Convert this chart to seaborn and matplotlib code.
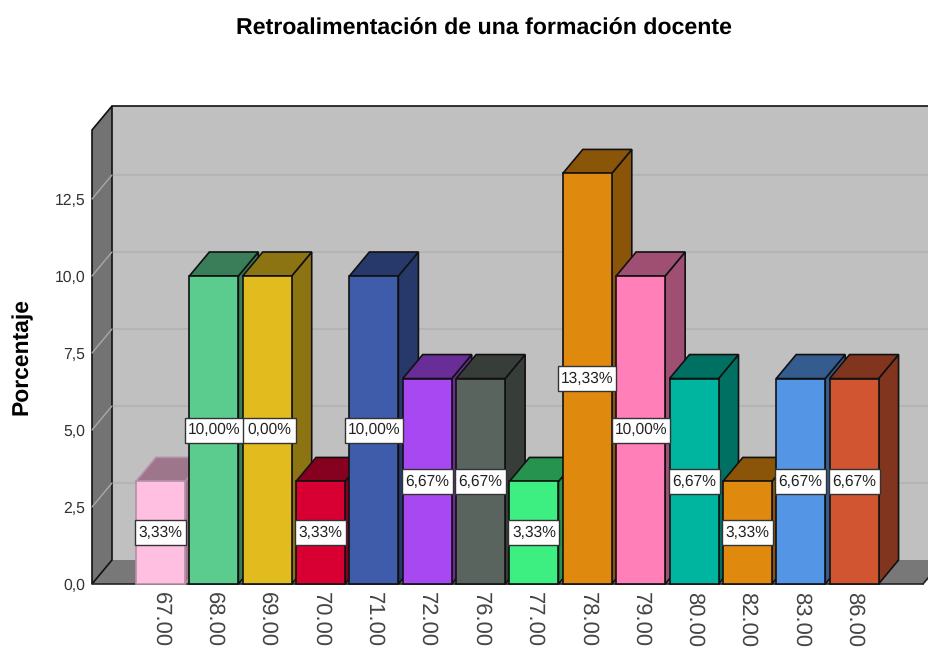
import seaborn as sns
import matplotlib.pyplot as plt
import matplotlib.colors as mcolors
from matplotlib.patches import Polygon, Rectangle

# Values
categories = ['67.00', '68.00', '69.00', '70.00', '71.00', '72.00', '76.00',
              '77.00', '78.00', '79.00', '80.00', '82.00', '83.00', '86.00']
percent = [3.33, 10.00, 10.00, 3.33, 10.00, 6.67, 6.67,
           3.33, 13.33, 10.00, 6.67, 3.33, 6.67, 6.67]
labels = ['3,33%', '10,00%', '0,00%', '3,33%', '10,00%', '6,67%', '6,67%',
          '3,33%', '13,33%', '10,00%', '6,67%', '3,33%', '6,67%', '6,67%']
colors = ['#FFBFE0', '#5CCB8E', '#E2BB1F', '#D80032', '#3F5CAB', '#A848F2', '#59645E',
          '#3DEE80', '#E0890F', '#FF80B8', '#00B5A0', '#E0890F', '#5595E5', '#D05530']
yticks = [0, 2.5, 5, 7.5, 10, 12.5]

sns.set_theme(style='white')
plt.rcParams['font.family'] = ['Liberation Sans', 'DejaVu Sans']
plt.rcParams['text.hinting'] = 'no_hinting'

W, H = 929, 648
fig = plt.figure(figsize=(W / 100, H / 100), dpi=100)

# pixel geometry of the front plane
px_left, px_bottom, px_top = 92, 584, 130
x0, x_step = 160.5, 53.35
y_step = 30.8
ax = fig.add_axes([px_left / W, 1 - px_bottom / H, (W - px_left) / W, (px_bottom - px_top) / H])

sns.barplot(x=categories, y=percent, hue=categories, palette=colors, dodge=False,
            width=49 / x_step, legend=False, edgecolor='#111111', linewidth=1.2,
            saturation=1, ax=ax)

ax.set_xlim((px_left - x0) / x_step, (W - x0) / x_step)
ax.set_ylim(0, (px_bottom - px_top) / y_step)
ax.patch.set_alpha(0)
sns.despine(ax=ax, left=True, bottom=True)

# depth of the 3D box in data units
dx = 20 / x_step
dy = 24 / y_step
xl = ax.get_xlim()[0]
xr_floor = (923 - x0) / x_step
xr = (950 - x0) / x_step
ytop = ax.get_ylim()[1]


def add_poly(points, face, z, edge='#111111', lw=1.2):
    ax.add_patch(Polygon(points, closed=True, facecolor=face, edgecolor=edge,
                         linewidth=lw, zorder=z, clip_on=False))


# walls and floor
add_poly([(xl + dx, dy), (xr, dy), (xr, ytop + dy), (xl + dx, ytop + dy)], '#C0C0C0', 1, edge='none')
add_poly([(xl, 0), (xl + dx, dy), (xr, dy), (xr_floor, 0)], '#787878', 2, edge='none')
add_poly([(xl, 0), (xl + dx, dy), (xl + dx, ytop + dy), (xl, ytop)], '#737373', 3)
ax.plot([xl + dx, xr], [ytop + dy, ytop + dy], color='#111111', lw=1.2, zorder=3, clip_on=False)
ax.plot([xl, xr_floor], [0, 0], color='#222222', lw=1.2, zorder=3, clip_on=False)
ax.plot([xr_floor, xr_floor + dx], [0, dy], color='#222222', lw=1.2, zorder=3, clip_on=False)

# gridlines on the back wall, continuing on the left wall
for t in yticks[1:]:
    ax.plot([xl + dx, xr], [t + dy, t + dy], color='#B4B4B4', lw=1.5, zorder=1.5, clip_on=False)
    ax.plot([xl, xl + dx], [t, t + dy], color='#A8A8A8', lw=1.0, zorder=3.5, clip_on=False)

# bars: seaborn draws the front faces, sides and tops go behind each one
bars = [c[0] for c in ax.containers]
for i, bar in enumerate(bars):
    z = 10 + 3 * i
    left, right, v = bar.get_x(), bar.get_x() + bar.get_width(), bar.get_height()
    shade = tuple(c * 0.62 for c in mcolors.to_rgb(colors[i]))
    # the pale first bar has no dark outline in the original
    edge = '#B58FA3' if i == 0 else '#111111'
    add_poly([(right, 0), (right + dx, dy), (right + dx, v + dy), (right, v)], shade, z, edge=edge)
    add_poly([(left, v), (left + dx, v + dy), (right + dx, v + dy), (right, v)], shade, z + 0.5, edge=edge)
    bar.set_zorder(z + 1)
    bar.set_clip_on(False)
    bar.set_edgecolor(edge)

    # value label box, earlier boxes sit on top of later ones
    box_w = (58 if len(labels[i]) == 6 else 51) / x_step
    box_h = 25 / y_step
    # the third label is clipped by its neighbour, so its box starts under it
    shift = 0
    if labels[i] == '0,00%':
        box_w = 58 / x_step
        shift = 2 / x_step
    ax.add_patch(Rectangle((i - box_w / 2, v / 2 - box_h / 2), box_w, box_h, facecolor='white',
                           edgecolor='#333333', linewidth=1.0, zorder=100 - 2 * i, clip_on=False))
    ax.text(i + shift, v / 2 - 0.01, labels[i], ha='center', va='center', fontsize=11.2,
            color='#222222', zorder=101 - 2 * i, clip_on=False)

ax.set_xticks(range(len(categories)))
ax.set_xticklabels(categories, rotation=270, ha='center', va='top', fontsize=15.8, color='#444444')
ax.set_yticks(yticks)
ax.set_yticklabels([f'{t:.1f}'.replace('.', ',') for t in yticks], fontsize=11.3, color='#333333')
ax.tick_params(axis='x', length=0, pad=6)
ax.tick_params(axis='y', length=0, pad=5)

fig.text(22 / W, 1 - 357 / H, 'Porcentaje', rotation=90, ha='center', va='center',
         fontsize=16.5, fontweight='bold', color='black')
fig.text(483.5 / W, 1 - 29 / H, 'Retroalimentación de una formación docente', ha='center',
         va='center', fontsize=16.7, fontweight='bold', color='black')

fig.savefig('out.png', dpi=100)
